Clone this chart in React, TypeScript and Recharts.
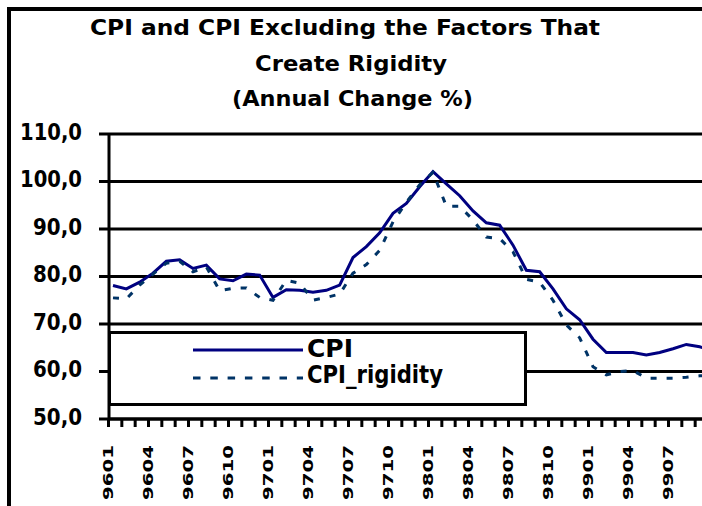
import { LineChart, Line, XAxis, YAxis, CartesianGrid, Legend } from 'recharts';

const months = [
  '9601', '9602', '9603', '9604', '9605', '9606', '9607', '9608', '9609', '9610', '9611', '9612',
  '9701', '9702', '9703', '9704', '9705', '9706', '9707', '9708', '9709', '9710', '9711', '9712',
  '9801', '9802', '9803', '9804', '9805', '9806', '9807', '9808', '9809', '9810', '9811', '9812',
  '9901', '9902', '9903', '9904', '9905', '9906', '9907', '9908', '9909', '9910',
];

const cpi = [
  78.1, 77.4, 78.8, 80.7, 83.2, 83.5, 81.7, 82.4, 79.5, 79.1, 80.5, 80.3,
  75.6, 77.2, 77.1, 76.7, 77.1, 78.2, 84.0, 86.3, 89.2, 93.3, 95.4, 98.9,
  102.1, 99.5, 97.0, 93.8, 91.3, 90.8, 86.6, 81.3, 81.0, 77.4, 73.2, 70.9,
  66.8, 64.0, 64.0, 64.0, 63.5, 64.0, 64.8, 65.7, 65.2, 64.3,
];

const cpiRigidity = [
  75.5, 75.3, 78.2, 80.5, 82.8, 83.2, 81.0, 82.0, 77.0, 77.5, 77.6, 75.6,
  75.0, 79.2, 78.6, 75.0, 75.6, 76.3, 80.7, 82.5, 85.5, 91.5, 95.6, 99.3,
  101.9, 94.8, 94.8, 91.9, 88.3, 88.0, 85.2, 79.4, 78.8, 75.0, 69.8, 67.1,
  61.0, 59.3, 60.0, 60.2, 58.6, 58.6, 58.6, 58.8, 59.1, 59.2,
];

const yTicks = [50, 60, 70, 80, 90, 100, 110];

const titleLines = [
  'CPI and CPI Excluding the Factors That',
  'Create Rigidity',
  '(Annual Change %)',
];

const data = months.map((m, i) => ({
  month: m,
  CPI: cpi[i],
  CPI_rigidity: cpiRigidity[i],
}));

const FONT = '"DejaVu Sans", sans-serif';

// every month gets a tick mark, every third month a label (the last one falls off the page)
const XTick = ({ x, y, payload, index }: any) => {
  const tx = x - 4.5;
  return (
    <g>
      <line x1={tx} x2={tx} y1={y} y2={y + 8} stroke="#000" strokeWidth={3} />
      {index % 3 === 0 && tx < 690 && (
        <text
          transform={`translate(${tx - 1},${y + 81}) rotate(-90)`}
          dy="0.36em"
          fontFamily={FONT}
          fontWeight="bold"
          fontSize={14.5}
          fill="#000"
          textLength={55}
          lengthAdjust="spacingAndGlyphs"
        >
          {payload.value}
        </text>
      )}
    </g>
  );
};

const YTick = ({ y, payload }: any) => {
  const label = payload.value.toFixed(1).replace('.', ',');
  const len = payload.value >= 100 ? 62 : 49;
  return (
    <text
      x={82 - len}
      y={y}
      dy={5.9}
      fontFamily={FONT}
      fontWeight="bold"
      fontSize={23}
      fill="#000"
      textLength={len}
      lengthAdjust="spacingAndGlyphs"
    >
      {label}
    </text>
  );
};

const LegendBox = () => (
  <div
    style={{
      boxSizing: 'border-box',
      width: 419,
      height: 75,
      border: '3px solid #000',
      background: '#fff',
      position: 'relative',
    }}
  >
    <svg width={413} height={69} style={{ position: 'absolute', left: 0, top: 0 }}>
      <line x1={82} x2={192} y1={16} y2={16} stroke="#000080" strokeWidth={3} />
      <text x={196} y={23} fontFamily={FONT} fontWeight="bold" fontSize={24} fill="#000" textLength={46} lengthAdjust="spacingAndGlyphs">
        CPI
      </text>
      <line x1={82} x2={192} y1={44} y2={44} stroke="#003366" strokeWidth={3} strokeDasharray="7.5 9.8" />
      <text x={196} y={49} fontFamily={FONT} fontWeight="bold" fontSize={24} fill="#000" textLength={136} lengthAdjust="spacingAndGlyphs">
        CPI_rigidity
      </text>
    </svg>
  </div>
);

export default function App() {
  return (
    <div
      style={{
        position: 'fixed',
        left: 0,
        top: 0,
        width: 702,
        height: 506,
        overflow: 'hidden',
        background: '#fff',
      }}
    >
      <div
        style={{
          position: 'absolute',
          left: 7,
          top: 7,
          width: 720,
          height: 520,
          borderTop: '4px solid #000',
          borderLeft: '4px solid #000',
        }}
      />
      <svg width={702} height={130} style={{ position: 'absolute', left: 0, top: 0 }}>
        <text x={90} y={34.5} fontFamily={FONT} fontWeight="bold" fontSize={21} fill="#000" textLength={510} lengthAdjust="spacingAndGlyphs">
          {titleLines[0]}
        </text>
        <text x={255} y={70.5} fontFamily={FONT} fontWeight="bold" fontSize={21} fill="#000" textLength={192} lengthAdjust="spacingAndGlyphs">
          {titleLines[1]}
        </text>
        <text x={232} y={106} fontFamily={FONT} fontWeight="bold" fontSize={21} fill="#000" textLength={241} lengthAdjust="spacingAndGlyphs">
          {titleLines[2]}
        </text>
      </svg>
      <div style={{ position: 'absolute', left: 0, top: 0 }}>
        <LineChart width={716} height={506} data={data} margin={{ top: 134, right: 3, bottom: 0, left: 0 }}>
          <CartesianGrid vertical={false} stroke="#000" strokeWidth={3} />
          <XAxis
            dataKey="month"
            interval={0}
            height={87}
            padding={{ left: 4, right: 0 }}
            tickLine={false}
            tickSize={0}
            tickMargin={0}
            tick={<XTick />}
            axisLine={{ stroke: '#000', strokeWidth: 3 }}
          />
          <YAxis
            domain={[50, 110]}
            ticks={yTicks}
            interval={0}
            width={109}
            tickSize={10}
            tickLine={{ stroke: '#000', strokeWidth: 3 }}
            axisLine={{ stroke: '#000', strokeWidth: 3 }}
            tick={<YTick />}
          />
          <Legend
            layout="horizontal"
            verticalAlign="middle"
            align="center"
            content={<LegendBox />}
            wrapperStyle={{ left: 108, top: 331, width: 419, height: 75 }}
          />
          <Line type="linear" dataKey="CPI" stroke="#000080" strokeWidth={3} dot={false} isAnimationActive={false} />
          <Line
            type="linear"
            dataKey="CPI_rigidity"
            stroke="#003366"
            strokeWidth={3}
            strokeDasharray="6 10"
            dot={false}
            isAnimationActive={false}
          />
        </LineChart>
      </div>
    </div>
  );
}
